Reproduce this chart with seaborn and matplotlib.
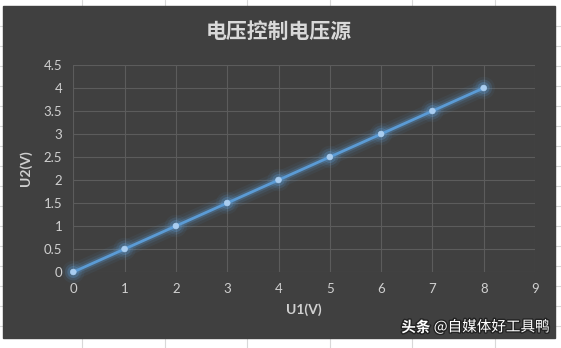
import matplotlib
matplotlib.use("Agg")
import matplotlib.pyplot as plt
import matplotlib.patheffects as pe
from matplotlib.patches import Rectangle
from matplotlib.lines import Line2D
import seaborn as sns
import pandas as pd

u1 = [0, 1, 2, 3, 4, 5, 6, 7, 8]
u2 = [0, 0.5, 1, 1.5, 2, 2.5, 3, 3.5, 4]
x_ticks = [0, 1, 2, 3, 4, 5, 6, 7, 8, 9]
y_ticks = [0, 0.5, 1, 1.5, 2, 2.5, 3, 3.5, 4, 4.5]
title = "电压控制电压源"
x_label = "U1(V)"
y_label = "U2(V)"
watermark_a = "头条"
watermark_b = " @自媒体好工具鸭"

sns.set_theme(style="dark")
plt.rcParams['font.family'] = ['Noto Sans CJK SC', 'DejaVu Sans']

W, H = 561, 348
fig = plt.figure(figsize=(W / 100, H / 100), dpi=100)
fig.patch.set_facecolor("white")

# faint spreadsheet cell lines in the white margins
for xc in [82, 165, 247, 330, 412, 495]:
    fig.add_artist(Line2D([xc / W, xc / W], [0, 1], color="#d8d8d8", lw=0.8, zorder=0))
for yc in [26, 46, 66, 86, 106, 126, 146, 166, 186, 206, 226, 246, 266, 286, 306, 326]:
    fig.add_artist(Line2D([0, 1], [1 - yc / H, 1 - yc / H], color="#d8d8d8", lw=0.8, zorder=0))

# dark chart area
fig.add_artist(Rectangle((3 / W, 1 - 338 / H), 552 / W, 332 / H,
                         transform=fig.transFigure, facecolor="#404040",
                         edgecolor="#404040", zorder=1))

ax = fig.add_axes([73.3 / W, 1 - 272 / H, (535 - 73.3) / W, (272 - 65) / H])
ax.set_zorder(2)
ax.set_facecolor("#404040")

df = pd.DataFrame({"U1": u1, "U2": u2})
line_color = "#5b9bd5"
sns.lineplot(data=df, x="U1", y="U2", ax=ax, color=line_color, lw=2.0,
             marker="o", markersize=4.2, markerfacecolor="#a9cdf0",
             markeredgecolor="#a9cdf0", markeredgewidth=0.4,
             path_effects=[pe.Stroke(linewidth=12, foreground=line_color, alpha=0.07),
                           pe.Stroke(linewidth=8, foreground=line_color, alpha=0.12),
                           pe.Stroke(linewidth=4.5, foreground=line_color, alpha=0.25),
                           pe.Normal()],
             zorder=5, clip_on=False)

ax.set_xlim(0, 9)
ax.set_ylim(0, 4.5)
ax.set_xticks(x_ticks)
ax.set_yticks(y_ticks)
ax.set_xticklabels([f"{v:g}" for v in x_ticks])
ax.set_yticklabels([f"{v:g}" for v in y_ticks])
ax.grid(True, color="#5c5c5c", lw=0.8)
for s in ax.spines.values():
    s.set_visible(False)
ax.tick_params(axis="both", length=0, colors="#d0d0d0", labelsize=9.5)
ax.tick_params(axis="x", pad=8)
ax.tick_params(axis="y", pad=8)
for lab in ax.get_xticklabels() + ax.get_yticklabels():
    lab.set_family(["Lato", "DejaVu Sans"])

ax.set_xlabel(x_label, color="#d0d0d0", fontsize=10, fontweight="bold",
              family=["Lato", "DejaVu Sans"], labelpad=6)
ax.set_ylabel(y_label, color="#d0d0d0", fontsize=10, fontweight="bold",
              family=["Lato", "DejaVu Sans"], labelpad=8)

fig.text(279 / W, 1 - 31 / H, title, ha="center", va="center", fontsize=15,
         color="#d9d9d9", fontweight="bold", zorder=3)

shadow = [pe.withStroke(linewidth=2, foreground="#222222")]
t2 = fig.text(550 / W, 1 - 327 / H, watermark_b, ha="right", va="center", fontsize=10.5,
              color="white", zorder=3, path_effects=shadow)
fig.canvas.draw()
bb = t2.get_window_extent()
fig.text(bb.x0 / W, 1 - 327 / H, watermark_a, ha="right", va="center", fontsize=10.5,
         color="white", fontweight="bold", zorder=3, path_effects=shadow)

fig.savefig("out.png", dpi=100, facecolor="white")
